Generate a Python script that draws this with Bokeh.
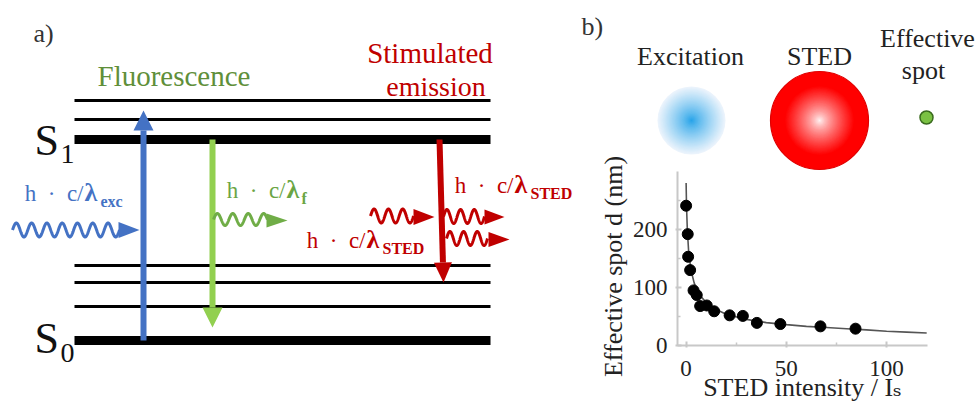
import numpy as np
from bokeh.plotting import figure
from bokeh.models import Range1d, FixedTicker
from bokeh.core.properties import value
from bokeh.embed import file_html
from bokeh.resources import INLINE

# ---------------- panel b: measured data ----------------
sted_intensity = [0.0, 0.8, 1.0, 2.0, 3.7, 5.3, 7.0, 10.3, 14.0, 21.7, 28.3, 35.3, 47.0, 67.0, 84.5]
spot_size_nm = [241, 192, 153, 130, 95, 87, 68, 69, 59, 52, 51, 39, 37, 33, 29]
fit_intensity = [0.0, 0.2, 0.6, 1.2, 2, 3, 4, 5, 7, 10, 15, 20, 30, 40, 50, 60, 70, 80, 90, 100, 110, 120]
fit_spot_nm = [280, 240, 200, 165, 142, 122, 108, 99, 86, 74, 62, 54, 45, 39.5, 36, 33, 31, 29, 27, 24.5, 23, 21.5]
x_ticks = [0, 50, 100]
x_minor = [25, 75]
y_ticks = [0, 100, 200]
y_minor = [50, 150, 250]
x_axis_span = (-4.3, 120.4)
y_axis_span = (0, 300)

# ---------------- panel a: Jablonski diagram layout ----------------
level_x = [74, 490]
thin_levels = [100, 119, 265, 282, 306]
thick_levels = [139, 340]

W, H = 976, 401
# where the scatter plot's axes sit on the page (pixels)
AX_LEFT, AX_RIGHT, AX_BOTTOM, AX_TOP = 677, 927, 345, 171
sx = (AX_RIGHT - AX_LEFT) / (x_axis_span[1] - x_axis_span[0])
sy = (AX_BOTTOM - AX_TOP) / (y_axis_span[1] - y_axis_span[0])
x_lo = x_axis_span[0] - AX_LEFT / sx
x_hi = x_axis_span[0] + (W - AX_LEFT) / sx
y_hi = y_axis_span[0] + AX_BOTTOM / sy
y_lo = y_axis_span[0] - (H - AX_BOTTOM) / sy

FONT_NAME = "Liberation Serif, DejaVu Serif, serif"
SERIF = value(FONT_NAME)
BLUE, GREEN_ARROW, GREEN, RED = "#4472C4", "#92D050", "#6aa544", "#C00000"
PX = dict(x_range_name="px", y_range_name="py")
K_BASE = 0.35  # baseline correction (fraction of font size) for the svg text placement

p = figure(width=W, height=H, x_range=Range1d(x_lo, x_hi), y_range=Range1d(y_lo, y_hi),
           extra_x_ranges={"px": Range1d(0, W)}, extra_y_ranges={"py": Range1d(H, 0)},
           output_backend="svg", toolbar_location=None, min_border=0)
p.xgrid.visible = False
p.ygrid.visible = False
p.outline_line_color = None
p.background_fill_color = "white"
p.border_fill_color = "white"


def txt(x, y, s, size, color="#222222", align="left", style="normal", angle=0.0):
    dx = -K_BASE * size * np.sin(angle)
    dy = -K_BASE * size * np.cos(angle)
    p.text([x + dx], [y + dy], text=[s], text_font=SERIF, text_font_size=f"{size}px",
           text_color=color, text_align=align, text_baseline="alphabetic",
           text_font_style=style, angle=angle, **PX)


def arrow(x0, y0, x1, y1, color, lw, hl, hw):
    dx, dy = x1 - x0, y1 - y0
    L = np.hypot(dx, dy)
    ux, uy = dx / L, dy / L
    bx, by = x1 - ux * hl, y1 - uy * hl
    p.segment([x0], [y0], [bx], [by], line_width=lw, line_color=color, **PX)
    nx, ny = -uy, ux
    p.patch([x1, bx + nx * hw / 2, bx - nx * hw / 2],
            [y1, by + ny * hw / 2, by - ny * hw / 2], color=color, line_width=0, **PX)


def wave(x0, x1, yc, amp, periods, tip, hl, hw, color, lw=3):
    t = np.linspace(0, 1, 300)
    xs = x0 + (x1 - x0) * t
    ys = yc - amp * np.sin(2 * np.pi * periods * t)
    p.line(xs, ys, line_width=lw, line_color=color, **PX)
    tx, ty = tip
    p.patch([tx, tx - hl, tx - hl], [ty, ty - hw / 2, ty + hw / 2], color=color, line_width=0, **PX)


def photon_label(x_lam, base, sub, color, size=23, lam_size=26, sub_size=16, sub_gap=16):
    txt(x_lam - 1, base, "h\u2002·\u2002c/", size, color, align="right")
    txt(x_lam, base, "λ", lam_size, color, style="bold")
    txt(x_lam + sub_gap, base + 6, sub, sub_size, color, style="bold")


# ---------------- panel a ----------------
n1, n2 = len(thin_levels), len(thick_levels)
p.segment([level_x[0]] * n1, thin_levels, [level_x[1]] * n1, thin_levels,
          line_width=3, line_color="black", **PX)
p.segment([level_x[0]] * n2, thick_levels, [level_x[1]] * n2, thick_levels,
          line_width=9, line_color="black", **PX)

arrow(143, 340, 143, 110, BLUE, 6, 20, 20)
arrow(212, 139, 212, 327, GREEN_ARROW, 6, 20, 20)
arrow(439, 139, 443, 282, RED, 6, 20, 18)

wave(12, 119, 229.5, 7, 7, (139, 229.5), 21, 16, BLUE)
wave(213, 267, 219, 6, 3.5, (287, 220), 21, 14, "#70AD47")
wave(370, 413, 215.5, 7, 3, (434, 216.5), 21, 16, RED)
wave(443, 484, 216, 7, 3, (504, 216.5), 20, 15, RED)
wave(446, 487, 238, 7, 3, (509, 239), 21, 15, RED)

txt(33, 42, "a)", 26, "#333333")
txt(34, 155, "S", 44, "#111111")
txt(60, 163, "1", 28, "#111111")
txt(34, 353, "S", 44, "#111111")
txt(60, 362, "0", 28, "#111111")
txt(97, 86, "Fluorescence", 29, "#5f8f3a")
txt(429.5, 63, "Stimulated", 29, RED, align="center")
txt(435.5, 96, "emission", 28, RED, align="center")

photon_label(84, 201, "exc", BLUE)
photon_label(286, 198, "f", GREEN, sub_gap=15)
photon_label(514, 193, "STED", RED)
photon_label(366, 248, "STED", RED)


# ---------------- panel b: beam profiles ----------------
def mix(c0, c1, t):
    return "#%02x%02x%02x" % tuple(int(round(a + (b - a) * t)) for a, b in zip(c0, c1))


R_exc = 34
rs = np.linspace(R_exc, 0.5, 45)
cols = [mix((30, 160, 232), (236, 244, 252), min(1.0, (r / R_exc) ** 0.8)) for r in rs]
p.circle([691] * len(rs), [120] * len(rs), radius=rs, fill_color=cols, line_color=None, **PX)

R_sted = 49
rs = np.linspace(R_sted, 0.5, 60)
cols = [mix((255, 255, 255), (255, 0, 0), min(1.0, (r / R_sted) / 0.72) ** 0.75) for r in rs]
p.circle([819] * len(rs), [120] * len(rs), radius=rs, fill_color=cols, line_color=None, **PX)
p.circle([819], [120], radius=R_sted, fill_color=None, line_color="#e00000", line_width=1.2, **PX)

p.circle([926], [117], radius=6.5, fill_color="#7ac143", line_color="#3a6b1e", line_width=1.5, **PX)

txt(581, 35, "b)", 26, "#333333")
txt(690, 65, "Excitation", 26, align="center")
txt(819, 65, "STED", 26, align="center")
txt(927, 47, "Effective", 26, align="center")
txt(923, 79, "spot", 26, align="center")

# ---------------- panel b: scatter plot ----------------
xa, ya = p.xaxis[0], p.yaxis[0]
xa.ticker = FixedTicker(ticks=x_ticks, minor_ticks=x_minor)
ya.ticker = FixedTicker(ticks=y_ticks, minor_ticks=y_minor)
xa.fixed_location = y_axis_span[0]
ya.fixed_location = x_axis_span[0]
xa.bounds = x_axis_span
ya.bounds = y_axis_span
for ax in (xa, ya):
    ax.axis_line_color = "#c8c8c8"
    ax.axis_line_width = 2
    ax.major_tick_line_color = "#c8c8c8"
    ax.minor_tick_line_color = "#c8c8c8"
    ax.major_tick_line_width = 2
    ax.minor_tick_line_width = 1.5
    ax.major_tick_in = 4
    ax.major_tick_out = 2
    ax.minor_tick_in = 3
    ax.minor_tick_out = 0
    ax.major_label_text_font = FONT_NAME
    ax.major_label_text_font_size = "23px"
    ax.major_label_text_color = "#222222"
xa.major_label_standoff = 13
ya.major_label_standoff = 8

txt(802, 396, "STED intensity / Iₛ", 26, align="center")
txt(622, 266, "Effective spot d (nm)", 26, align="center", angle=np.pi / 2)

p.line(fit_intensity, fit_spot_nm, line_color="#555555", line_width=1.6)
p.scatter(sted_intensity, spot_size_nm, size=11, fill_color="black", line_color="black")

with open("out.html", "w") as f:
    f.write(file_html(p, INLINE))
